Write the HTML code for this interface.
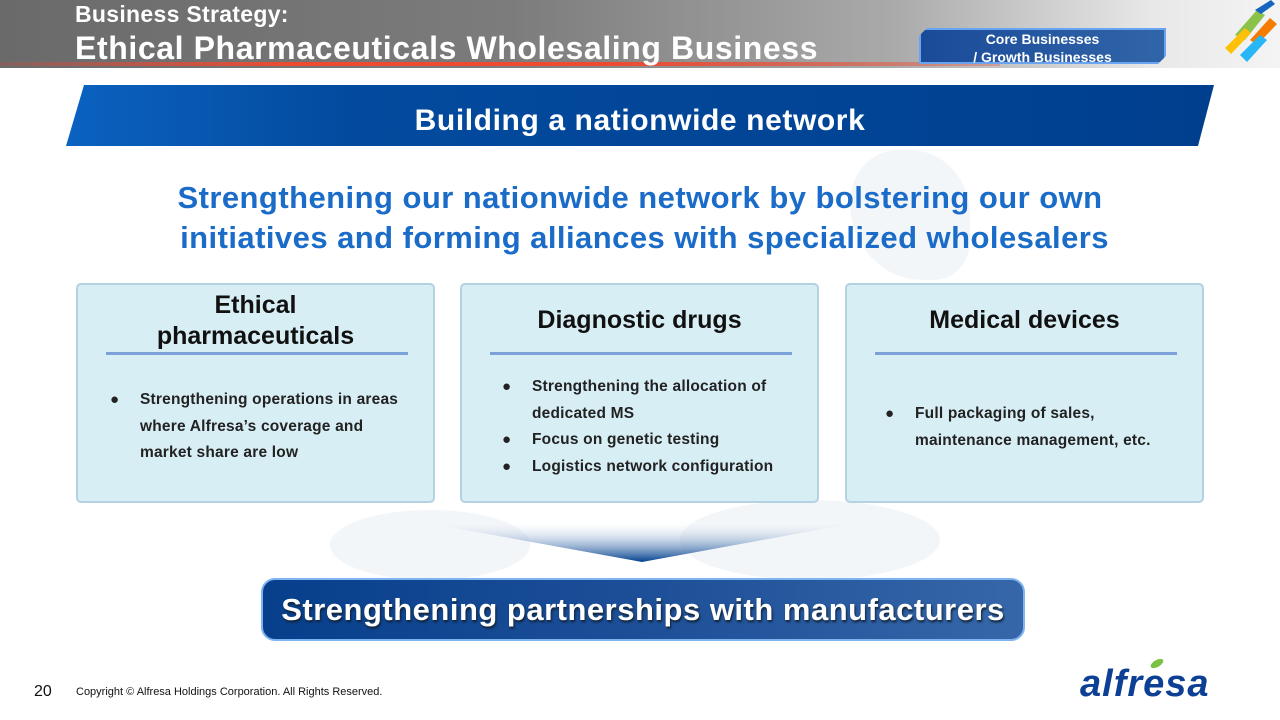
<!DOCTYPE html>
<html><head><meta charset="utf-8"><style>
*{margin:0;padding:0;box-sizing:border-box}
body{width:1280px;height:720px;position:relative;overflow:hidden;background:#fff;font-family:"Liberation Sans",Arial,sans-serif}
.hdr{position:absolute;left:0;top:0;width:1280px;height:68px;background:linear-gradient(90deg,#6a6a6a 0%,#7c7c7c 40%,#aaaaaa 70%,#e8e8e8 90%,#f4f4f4 100%)}
.red{position:absolute;left:0;top:62px;width:1000px;height:4px;background:linear-gradient(90deg,rgba(230,60,40,0.2),#f04a30 30%,#f04a30 60%,rgba(240,74,48,0.3))}
.t1{position:absolute;left:75px;top:1px;color:#fff;font-weight:bold;font-size:23px;letter-spacing:0.3px}
.t2{position:absolute;left:75px;top:30px;color:#fff;font-weight:bold;font-size:32px;letter-spacing:0.6px}
.tag{position:absolute;left:919px;top:28px;width:247px;height:36px;background:linear-gradient(90deg,#1a4b9a,#3165a8);border:2px solid #6aa4f0;clip-path:polygon(8px 0,100% 0,100% calc(100% - 8px),calc(100% - 8px) 100%,0 100%,0 8px);color:#fff;font-weight:bold;font-size:14px;text-align:center;line-height:18px}
.banner{position:absolute;left:66px;top:85px;width:1148px;height:61px;background:linear-gradient(90deg,#0b62c0 0%,#034a9e 25%,#003f8e 100%);clip-path:polygon(18px 0,100% 0,calc(100% - 16px) 100%,0 100%);color:#fff;font-weight:bold;font-size:30px;letter-spacing:0.6px;text-align:center;line-height:72px}
.sub{position:absolute;left:0;top:178px;width:1280px;text-align:center;color:#1a6cc8;font-weight:bold;font-size:31px;letter-spacing:0.45px;line-height:40px}
.box{position:absolute;top:283px;width:359px;height:220px;background:#d8eef5;border:2px solid #b3d2e2;border-radius:5px}
.box h3{position:absolute;left:0;width:100%;text-align:center;font-size:25px;color:#111;line-height:31px}
.box .ln{position:absolute;left:28px;top:67px;width:302px;height:3px;background:#7ca0d8}
.box ul{position:absolute;left:30px;list-style:none;font-size:15.5px;letter-spacing:0.2px;font-weight:bold;color:#222;line-height:26.5px;white-space:nowrap}
.box li{padding-left:32px;position:relative}
.box li.b:before{content:"●";position:absolute;left:2px;font-size:15px}
.map{position:absolute;background:#e8eef4;opacity:.5}
.btm{position:absolute;left:261px;top:578px;width:764px;height:63px;border:2px solid #7eb4f0;border-radius:14px;background:linear-gradient(90deg,#073f8c,#1d4f98 50%,#3667a9);color:#fff;font-weight:bold;font-size:31px;letter-spacing:0.5px;text-align:center;line-height:60px;text-shadow:1px 2px 2px #123}
</style></head><body>
<div class="map" style="left:850px;top:150px;width:120px;height:130px;border-radius:40% 50% 30% 60%"></div>
<div class="map" style="left:680px;top:500px;width:260px;height:80px;border-radius:50%"></div>
<div class="map" style="left:330px;top:510px;width:200px;height:70px;border-radius:50%"></div>
<div class="hdr"></div>
<div class="red"></div>
<svg style="position:absolute;left:1195px;top:0" width="85" height="68"><polygon points="40,35 62,10 70,15 50,40" fill="#8bc34a"/><polygon points="55,40 75,18 82,24 62,45" fill="#f57c00"/><polygon points="45,55 65,35 72,40 52,62" fill="#29b6f6"/><polygon points="30,48 50,28 56,33 36,54" fill="#ffc107"/><polygon points="60,10 76,0 80,4 66,14" fill="#1565c0"/></svg>
<div class="t1">Business Strategy:</div>
<div class="t2">Ethical Pharmaceuticals Wholesaling Business</div>
<div class="tag">Core Businesses<br>/ Growth Businesses</div>
<div class="banner">Building a nationwide network</div>
<div class="sub">Strengthening our nationwide network by bolstering our own<br>&nbsp;initiatives and forming alliances with specialized wholesalers</div>
<div class="box" style="left:76px"><h3 style="top:5px">Ethical<br>pharmaceuticals</h3><div class="ln"></div>
<ul style="top:102px"><li class="b">Strengthening operations in areas</li><li>where Alfresa’s coverage and</li><li>market share are low</li></ul></div>
<div class="box" style="left:460px"><h3 style="top:20px">Diagnostic drugs</h3><div class="ln"></div>
<ul style="top:89px;left:38px"><li class="b">Strengthening the allocation of</li><li>dedicated MS</li><li class="b">Focus on genetic testing</li><li class="b">Logistics network configuration</li></ul></div>
<div class="box" style="left:845px"><h3 style="top:20px">Medical devices</h3><div class="ln"></div>
<ul style="top:116px;left:36px"><li class="b">Full packaging of sales,</li><li>maintenance management, etc.</li></ul></div>
<svg style="position:absolute;left:410px;top:518px" width="470" height="46"><defs><linearGradient id="g" x1="0" y1="0" x2="0" y2="1"><stop offset="0" stop-color="#fff" stop-opacity="0"/><stop offset="1" stop-color="#003f8e"/></linearGradient></defs><polygon points="0,2 462,2 232,44" fill="url(#g)"/></svg>
<div class="btm">Strengthening partnerships with manufacturers</div>
<div style="position:absolute;left:34px;top:683px;font-size:16px;color:#111">20</div>
<div style="position:absolute;left:76px;top:686px;font-size:11px;color:#111">Copyright © Alfresa Holdings Corporation. All Rights Reserved.</div>
<div style="position:absolute;left:1080px;top:663px;font-size:38px;font-weight:bold;font-style:italic;color:#0d3f94;letter-spacing:1px">alfresa</div>
<div style="position:absolute;left:1150px;top:660px;width:14px;height:7px;background:#7cc242;border-radius:50%;transform:rotate(-30deg)"></div>
</body></html>
